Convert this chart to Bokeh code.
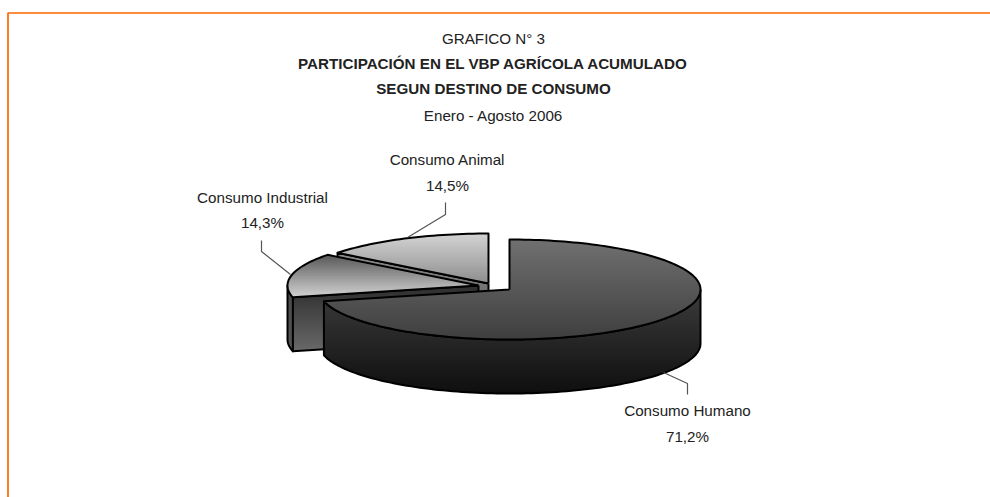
import math
from bokeh.plotting import figure
from bokeh.embed import file_html
from bokeh.resources import INLINE
from bokeh.core.properties import value

categories = ["Consumo Humano", "Consumo Industrial", "Consumo Animal"]
shares = [71.2, 14.3, 14.5]
share_labels = ["71,2%", "14,3%", "14,5%"]
title_lines = ["GRAFICO N° 3", "PARTICIPACIÓN EN EL VBP AGRÍCOLA ACUMULADO",
               "SEGUN DESTINO DE CONSUMO", "Enero - Agosto 2006"]

W, H = 990, 497
FONT = value("Liberation Sans")
RX, RY, DEPTH = 191, 50, 54
CENTERS = [(509, 289), (478, 285), (488, 283)]

p = figure(width=W, height=H, output_backend="svg", toolbar_location=None,
           x_range=(0, W), y_range=(H, 0), min_border=0, outline_line_color=None,
           background_fill_color="white", border_fill_color="white")
p.xaxis.visible = False
p.yaxis.visible = False
p.grid.visible = False

def hex2(c):
    return tuple(int(c[i:i+2], 16) for i in (1, 3, 5))

def mix(a, b, t):
    a, b = hex2(a), hex2(b)
    return "#%02x%02x%02x" % tuple(round(a[i] + (b[i] - a[i]) * t) for i in range(3))

def clip_below(poly, y0):
    out = []
    n = len(poly)
    for i in range(n):
        a, b = poly[i], poly[(i + 1) % n]
        ia, ib = a[1] >= y0, b[1] >= y0
        if ia:
            out.append(a)
        if ia != ib:
            t = (y0 - a[1]) / (b[1] - a[1])
            out.append((a[0] + (b[0] - a[0]) * t, y0))
    return out

def shade(poly, c0, c1, step=2):
    ys = [q[1] for q in poly]
    lo, hi = min(ys), max(ys)
    xs_all, ys_all, cols = [], [], []
    y = lo
    while y < hi:
        c = clip_below(poly, y)
        if len(c) > 2:
            xs_all.append([q[0] for q in c])
            ys_all.append([q[1] for q in c])
            cols.append(mix(c0, c1, (y - lo) / (hi - lo)))
        y += step
    p.patches(xs_all, ys_all, fill_color=cols, line_color=None)

def arc(c, a0, a1, dy=0):
    n = max(2, int(abs(a1 - a0) / 1.5))
    return [(c[0] + RX * math.sin(math.radians(a0 + (a1 - a0) * i / n)),
             c[1] + dy - RY * math.cos(math.radians(a0 + (a1 - a0) * i / n))) for i in range(n + 1)]

def outline(poly, width=2):
    q = poly + [poly[0]]
    p.line([a[0] for a in q], [a[1] for a in q], line_color="#000000", line_width=width, line_join="round")

def wall(c, a0, a1):
    return arc(c, a0, a1) + arc(c, a1, a0, DEPTH)

def face(c, a):
    e = arc(c, a, a)[0]
    return [c, e, (e[0], e[1] + DEPTH), (c[0], c[1] + DEPTH)]

# slice angles, clockwise from 12 o'clock
h_end = shares[0] * 3.6
i_end = h_end + shares[1] * 3.6
c_h, c_i, c_a = CENTERS

# animal slice
f = face(c_a, i_end)
shade(f, "#8a8a8a", "#555555"); outline(f)
t = [c_a] + arc(c_a, i_end, 360)
shade(t, "#d2d2d2", "#8c8c8c"); outline(t)

# industrial slice
w = wall(c_i, h_end, 270)
shade(w, "#4a4a4a", "#555555"); outline(w)
f = face(c_i, h_end)
shade(f, "#2e2e2e", "#6a6a6a"); outline(f)
t = [c_i] + arc(c_i, h_end, i_end)
shade(t, "#5a5a5a", "#d6d6d6"); outline(t)

# human slice
w = wall(c_h, 90, h_end)
shade(w, "#3c3c3c", "#0e0e0e"); outline(w)
t = [c_h] + arc(c_h, 0, h_end)
shade(t, "#707070", "#3e3e3e"); outline(t)

# leader lines
for lx, ly in [([663, 687, 687], [372, 383, 394]),
               ([290, 261, 261], [274, 251, 240]),
               ([407, 445, 445], [237, 214, 202])]:
    p.line(lx, ly, line_color="#555555", line_width=1.2)

# labels
TXT = "#222222"
def label(x, y, s, style="normal"):
    p.text([x], [y], text=[s], text_font=FONT, text_font_size="15.2px", text_color=TXT,
           text_align="center", text_baseline="middle", text_font_style=style)

label(493, 38, title_lines[0])
label(493, 63, title_lines[1], "bold")
label(493, 88, title_lines[2], "bold")
label(493, 115, title_lines[3])
for (x, y1, y2), name, sh in zip([(687, 410, 436), (262, 197, 222), (447, 159, 185)], categories, share_labels):
    label(x, y1, name)
    label(x, y2, sh)

# frame
p.line([7.5, 7.5, W], [H, 12.5, 12.5], line_color="#ff6600", line_width=1.7)

open("out.html", "w").write(file_html(p, INLINE))
